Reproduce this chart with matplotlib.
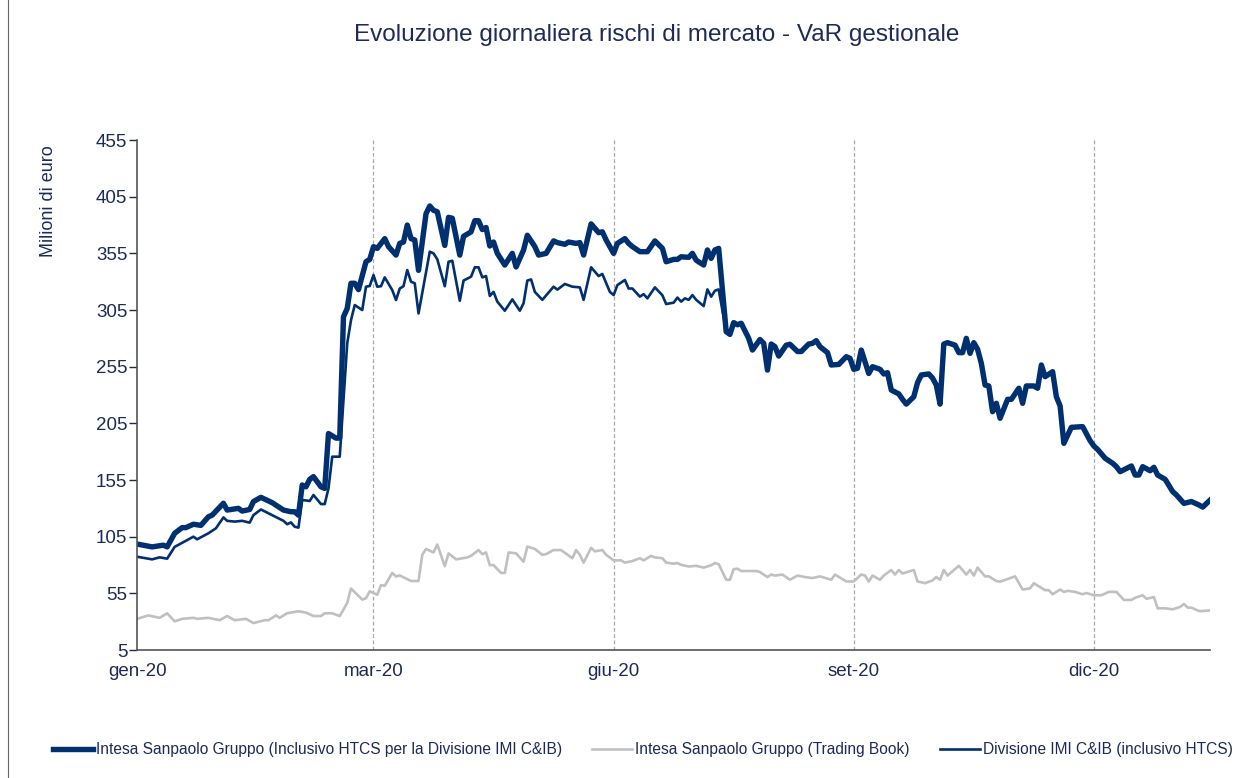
import matplotlib
matplotlib.use("Agg")
import matplotlib.pyplot as plt
from matplotlib.lines import Line2D

# giorno (indice sull'asse) e valori in milioni di euro
grp_x = [0, 4, 7, 8, 10, 12, 13, 15, 17, 19, 20, 23, 24, 27, 28, 30, 31, 33, 36, 39,
         41, 42, 43, 44, 45, 46, 47, 49, 50, 51, 53, 54, 55, 56, 57, 58, 59, 61, 62, 63,
         64, 66, 67, 69, 70, 71, 72, 73, 74, 75, 77, 78, 79, 80, 82, 83, 84, 86, 87, 89,
         90, 91, 92, 93, 94, 95, 96, 98, 100, 101, 103, 104, 106, 107, 109, 111, 112, 114, 115, 117,
         118, 119, 121, 123, 124, 125, 127, 128, 130, 131, 132, 134, 136, 138, 140, 141, 143, 144, 145, 147,
         148, 149, 151, 152, 153, 154, 155, 157, 158, 159, 160, 161, 163, 164, 166, 167, 168, 169, 170, 171,
         173, 174, 176, 177, 179, 180, 181, 182, 184, 185, 187, 189, 190, 191, 192, 193, 195, 196, 198, 199,
         200, 201, 203, 204, 205, 207, 208, 209, 211, 212, 213, 214, 215, 216, 218, 219, 220, 221, 222, 223,
         224, 225, 226, 227, 228, 229, 230, 232, 233, 235, 236, 237, 239, 240, 241, 242, 244, 245, 246, 247,
         249, 252, 254, 255, 256, 258, 260, 261, 262, 265, 266, 267, 268, 270, 271, 272, 274, 276, 277, 279,
         281, 283, 284, 286]
grp_v = [98.5, 96, 97.5, 96, 108, 113, 113, 116, 115, 122.6, 124, 134.5, 128.5, 130, 127.6, 129, 136, 139.7, 135, 128.5,
         127, 127, 124, 150.6, 149, 155.6, 158, 149, 147.6, 196, 192, 192, 299, 306.5, 328.6, 328.6, 323, 347.6, 349.7, 360.9,
         359.4, 368, 361, 353.5, 363.8, 365, 380, 368, 366.8, 340, 390, 396.8, 393, 391.7, 362, 386.8, 386, 353.5, 370, 374,
         383.8, 383.8, 376, 377.8, 361.5, 365, 355, 344.7, 355, 343, 358, 371, 361, 353.5, 355, 366, 364.5, 363, 365, 363.8,
         364.5, 353.5, 381, 373.3, 374, 366.8, 355, 363.8, 368, 363.8, 361, 356.5, 356.5, 366, 359.4, 347.6, 349.7, 349.7, 352, 351.5,
         355, 349, 344.7, 358, 350.6, 358, 359.4, 285.9, 283.5, 293.9, 292, 293.3, 280, 269.7, 279, 275.6, 252, 275, 272.7, 264.4,
         274, 274.8, 268.4, 268.4, 275, 275.6, 278, 272.7, 267.4, 256.5, 257, 263.8, 262.4, 252.7, 253.6, 269.7, 249, 255, 252.7, 248.6,
         249.7, 234.4, 231, 226.2, 222, 228.5, 240.9, 247.7, 248.6, 245, 238.8, 222, 275, 276.2, 274, 267.4, 267.4, 280, 266.8, 276.2,
         270.4, 258, 238.8, 238, 215.3, 222.7, 209.5, 226.2, 226.2, 236, 222.7, 238, 238, 236, 256.5, 246.2, 250.6, 228.5, 220.3, 187.4,
         201.5, 202.1, 189.7, 185, 182, 174.2, 169.8, 166.8, 162.4, 167.4, 159.4, 159.4, 166.8, 163.2, 166.2, 159.4, 155.6, 144.8, 141.8, 134.4,
         136, 133, 131.1, 137.4]

tb_x = [0, 3, 6, 8, 10, 12, 15, 16, 19, 22, 24, 26, 29, 31, 34, 35, 37, 38, 40, 43,
        45, 47, 49, 50, 52, 54, 56, 57, 60, 61, 62, 64, 65, 66, 68, 69, 70, 73, 75, 76,
        77, 79, 80, 82, 83, 85, 88, 89, 91, 92, 93, 94, 95, 97, 98, 99, 101, 103, 104, 106,
        108, 109, 111, 113, 116, 117, 118, 119, 121, 122, 124, 125, 127, 129, 130, 132, 134, 135, 137, 138,
        140, 141, 143, 144, 145, 147, 149, 151, 153, 154, 155, 157, 158, 159, 160, 161, 164, 165, 166, 168,
        169, 170, 172, 174, 176, 178, 180, 182, 185, 186, 189, 191, 193, 194, 195, 196, 198, 199, 201, 202,
        203, 204, 207, 208, 210, 212, 213, 214, 215, 216, 219, 221, 222, 223, 224, 226, 227, 229, 230, 232,
        234, 236, 238, 239, 242, 243, 244, 246, 247, 248, 250, 252, 253, 255, 257, 259, 261, 263, 265, 266,
        268, 269, 271, 272, 274, 276, 278, 279, 280, 281, 283, 284, 286]
tb_v = [32.5, 35.5, 33.4, 37.4, 30.3, 32.5, 33.4, 32.5, 33.4, 31.3, 35, 31.3, 32.5, 28.8, 31.3, 31.3, 35.5, 33.4, 37.5, 39.2,
        38, 35, 35, 37.4, 37.4, 35, 46.5, 59.3, 49.5, 50.7, 56.8, 53.8, 62.3, 61.7, 73, 69.9, 70.8, 65.9, 65.9, 89,
        94.2, 91.1, 98.1, 79, 90.3, 85, 86.7, 88.1, 93.2, 89.6, 91.1, 79.9, 79.9, 73, 73, 91.1, 90.3, 82.9, 96.3, 94.2,
        89, 89.6, 93.2, 93.2, 86, 93.2, 89, 82.1, 95.1, 92.1, 93.2, 89, 84.1, 84.1, 82.1, 83.5, 86, 84.1, 88.1, 86.7,
        86, 82.1, 81.2, 81.7, 80.2, 78.7, 79.3, 77.7, 79.8, 81.7, 80.8, 67, 67, 76.3, 76.8, 74.7, 74.7, 74.7, 73.8, 69.4,
        71.6, 70.7, 71.6, 67, 70.7, 69.4, 68.5, 70, 67, 71.6, 65.5, 65.5, 71.6, 70.7, 65.5, 70.7, 67, 70.7, 75.6, 71.6,
        75.6, 72.5, 75.6, 65.5, 64, 66.4, 69.4, 67, 75.6, 70.7, 79.3, 71.6, 75.6, 70.7, 77.7, 70, 70, 65.9, 65.3, 67.7,
        70, 58.4, 59.4, 63.9, 57.8, 57.8, 54.2, 58.4, 56.3, 57.2, 56.3, 54.2, 55.3, 53.3, 53.3, 56.3, 56.3, 49.2, 49.2, 51.1,
        53.3, 50.2, 51.7, 41.8, 41.8, 40.9, 43, 45.6, 42.4, 42.4, 39.4, 39.4, 40]

# Divisione IMI C&IB fino a luglio, poi coincide con la serie di Gruppo
div_x_early = [0, 4, 6, 8, 10, 13, 15, 16, 19, 21, 23, 24, 26, 28, 30, 31, 33, 36, 39, 40,
               41, 42, 43, 44, 46, 47, 49, 50, 51, 52, 54, 56, 57, 58, 60, 61, 62, 63, 64, 65,
               66, 68, 69, 70, 71, 72, 73, 74, 75, 78, 79, 80, 82, 83, 84, 86, 87, 89, 90, 91,
               92, 93, 94, 95, 96, 98, 100, 102, 103, 104, 105, 106, 108, 111, 112, 114, 116, 118, 119, 121,
               123, 124, 126, 127, 128, 130, 131, 132, 134, 135, 136, 138, 140, 141, 143, 144, 145, 146, 147, 148,
               149, 151, 152, 153, 154, 155]
div_v_early = [87.3, 85, 86.8, 85.6, 96, 101.4, 105, 102.7, 108, 112.4, 122, 119, 118.3, 119, 117.4, 124, 129, 124, 119, 116,
               117.6, 113.8, 113, 137.4, 136.5, 141.8, 133.8, 133.8, 147.6, 175.6, 175.6, 275.6, 296, 309.4, 305, 325.6, 326.2, 335.9, 325.6, 326,
               333.8, 322.6, 313.8, 324, 326, 340.3, 330, 328.6, 302, 356.5, 355, 349.8, 326, 347.6, 348.5, 313.2, 331, 334.4, 342.7, 342.7,
               333.8, 335, 317.4, 321, 312.4, 304.4, 314.4, 304.4, 311, 331, 332, 321, 314, 325.6, 323, 328, 325.6, 325, 314, 342.7,
               335, 336.8, 321, 318.2, 327, 331.5, 324, 324, 316.8, 319, 315.3, 325, 318, 310.3, 311.5, 316, 312.4, 315.3, 314, 318.2,
               314, 308.5, 323.2, 316.8, 322, 323.2]

tick_pos = [0, 63, 127, 191, 255]
tick_lab = ["gen-20", "mar-20", "giu-20", "set-20", "dic-20"]
y_ticks = list(range(5, 456, 50))

navy = "#003070"
txt = "#1c2b5a"

join = grp_x.index(157)
div_x = div_x_early + grp_x[join:]
div_v = div_v_early + grp_v[join:]

plt.rcParams["font.family"] = ["Liberation Sans", "DejaVu Sans"]

fig = plt.figure(figsize=(12.58, 7.78), dpi=100)
ax = fig.add_axes([0.109, 0.1645, 0.853, 0.6555])

ax.plot(grp_x, grp_v, color=navy, lw=3.9, solid_joinstyle="round",
        label="Intesa Sanpaolo Gruppo (Inclusivo HTCS per la Divisione IMI C&IB)")
ax.plot(tb_x, tb_v, color="#c0c0c0", lw=1.9,
        label="Intesa Sanpaolo Gruppo (Trading Book)")
ax.plot(div_x, div_v, color=navy, lw=1.9,
        label="Divisione IMI C&IB (inclusivo HTCS)")

for p in tick_pos[1:]:
    ax.axvline(p, color="#a8a8a8", lw=0.9, ls=(0, (3, 2)), zorder=0)

ax.set_xlim(0, 286)
ax.set_ylim(5, 455)
ax.set_yticks(y_ticks)
ax.set_xticks(tick_pos)
ax.set_xticklabels(tick_lab)
ax.tick_params(axis="y", labelsize=13.5, colors=txt, length=6, width=1, pad=1)
ax.tick_params(axis="x", labelsize=13.5, colors=txt, length=0, pad=9)
for t in ax.get_yticklines():
    t.set_color("#555555")
for s in ["top", "right"]:
    ax.spines[s].set_visible(False)
for s in ["left", "bottom"]:
    ax.spines[s].set_color("#555555")
    ax.spines[s].set_linewidth(1.2)

ax.set_ylabel("Milioni di euro", fontsize=13, color=txt)
ax.yaxis.set_label_coords(-0.075, 0.88)

fig.text(0.522, 0.955, "Evoluzione giornaliera rischi di mercato - VaR gestionale",
         ha="center", va="center", fontsize=17.5, color=txt)

leg = fig.legend(loc="center", bbox_to_anchor=(0.511, 0.036), ncol=3, frameon=False,
                 handlelength=2.6, columnspacing=1.9, handletextpad=0.2,
                 prop={"family": ["Liberation Sans Narrow", "Liberation Sans"], "size": 11.2})
for t in leg.get_texts():
    t.set_color(txt)

# bordo sinistro della cornice
fig.lines.append(Line2D([0.0064, 0.0064], [0, 1], transform=fig.transFigure,
                        color="#666666", lw=0.8))

fig.savefig("out.png", dpi=100)
